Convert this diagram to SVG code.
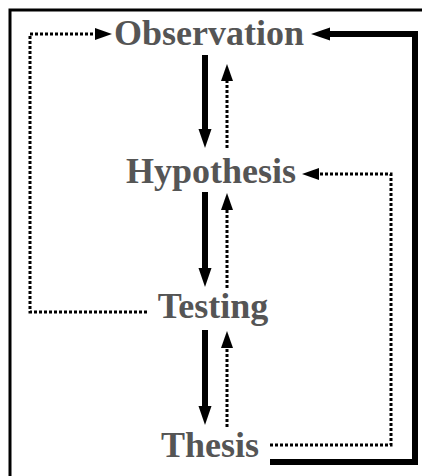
<svg xmlns="http://www.w3.org/2000/svg" width="422" height="476" viewBox="0 0 422 476">
<style>
.lbl{font-family:"Liberation Serif","Times New Roman",serif;font-weight:bold;font-size:36px;fill:#555;text-anchor:middle}
.solid{stroke:#000;stroke-width:6;fill:none}
.dot{stroke:#000;stroke-width:3;stroke-dasharray:3 2;fill:none}
</style>
<defs>
<marker id="ah" markerUnits="userSpaceOnUse" markerWidth="20" markerHeight="14" refX="0" refY="6.5" orient="auto" viewBox="0 0 20 13">
<path d="M0,0 L19,6.5 L0,13 z" fill="#000"/>
</marker>
<marker id="ahs" markerUnits="userSpaceOnUse" markerWidth="18" markerHeight="12" refX="0" refY="6" orient="auto" viewBox="0 0 17 12">
<path d="M0,0 L17,6 L0,12 z" fill="#000"/>
</marker>
</defs>
<rect x="10" y="10" width="430" height="490" fill="none" stroke="#000" stroke-width="3"/>
<g id="connectors">
<polyline class="solid" points="270,462 415,462 415,34 330,34" marker-end="url(#ah)"/>
<polyline class="dot" points="147,312 30,312 30,34 95,34" marker-end="url(#ahs)"/>
<polyline class="dot" points="270,445 391,445 391,174 319,174" marker-end="url(#ahs)"/>
<line class="solid" x1="205" y1="55" x2="205" y2="129" marker-end="url(#ah)"/>
<line class="dot" x1="227" y1="148" x2="227" y2="81" marker-end="url(#ahs)"/>
<line class="solid" x1="205" y1="192" x2="205" y2="268" marker-end="url(#ah)"/>
<line class="dot" x1="227" y1="288" x2="227" y2="210" marker-end="url(#ahs)"/>
<line class="solid" x1="205" y1="330" x2="205" y2="406" marker-end="url(#ah)"/>
<line class="dot" x1="227" y1="427" x2="227" y2="348" marker-end="url(#ahs)"/>
</g>
<g id="observation"><text class="lbl" x="209" y="45">Observation</text></g>
<g id="hypothesis"><text class="lbl" x="211" y="183">Hypothesis</text></g>
<g id="testing"><text class="lbl" x="213" y="318">Testing</text></g>
<g id="thesis"><text class="lbl" x="210" y="457">Thesis</text></g>
</svg>
